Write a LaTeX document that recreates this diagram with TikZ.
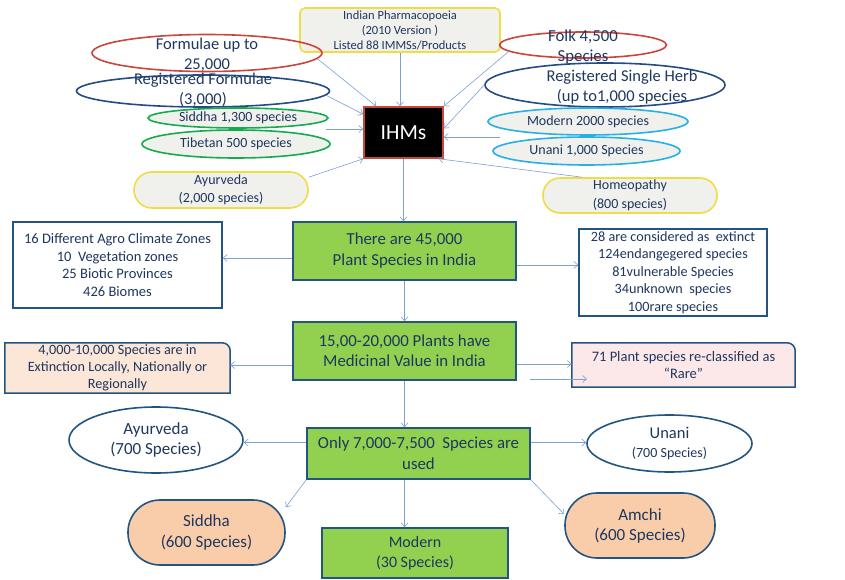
\documentclass[tikz,border=0pt]{standalone}
\usepackage{fontspec}
\setmainfont{Carlito}
\usetikzlibrary{shapes.geometric,arrows.meta,backgrounds}

\begin{document}
\begin{tikzpicture}[x=1pt,y=-1pt,>={Straight Barb[length=4pt,width=7pt]}]

	% Colours
	\definecolor{navy}{RGB}{30,55,95}
	\definecolor{ovalred}{RGB}{200,70,60}
	\definecolor{ovalblue}{RGB}{35,75,135}
	\definecolor{ovalgreen}{RGB}{20,170,80}
	\definecolor{ovalcyan}{RGB}{40,175,230}
	\definecolor{ovalyellow}{RGB}{240,220,70}
	\definecolor{shade}{RGB}{240,240,236}
	\definecolor{boxblue}{RGB}{35,85,130}
	\definecolor{leafgreen}{RGB}{146,208,80}
	\definecolor{peach}{RGB}{250,205,170}
	\definecolor{lightpeach}{RGB}{252,230,215}
	\definecolor{pinkish}{RGB}{252,232,232}
	\definecolor{arrowblue}{RGB}{125,160,210}

	% Styles
	\tikzstyle{link}=[->, arrowblue, line width=0.6pt]
	\tikzstyle{txt}=[align=center, text=navy, inner sep=0pt]
	\tikzstyle{oval}=[ellipse, line width=1.6pt, inner sep=0pt, align=center, text=navy]
	\tikzstyle{pill}=[rectangle, line width=1.6pt, inner sep=0pt, align=center, text=navy]
	\tikzstyle{greenbox}=[rectangle, draw=boxblue, fill=leafgreen, line width=1.6pt, inner sep=0pt,
		align=center, text=navy, font=\fontsize{16.8}{21}\selectfont]
	\tikzstyle{infobox}=[rectangle, draw=boxblue, fill=white, line width=1.5pt, inner sep=0pt,
		align=center, text=navy, font=\fontsize{14.5}{17.5}\selectfont]
	\tikzstyle{cornerbox}=[draw=boxblue, line width=1.5pt]

	\useasboundingbox (0,0) rectangle (845,580);

	%== Sources around the IHMs ==============================================
	\node[pill, draw=ovalyellow, fill=shade, rounded corners=5pt, minimum width=200, minimum height=44,
		font=\fontsize{12.5}{15}\selectfont] (pharm) at (400,30)
		{Indian Pharmacopoeia\\(2010 Version )\\Listed 88 IMMSs/Products};

	\node[oval, draw=ovalred, minimum width=230, minimum height=37] (formulae) at (207,53) {};
	\node[oval, draw=ovalblue, minimum width=253, minimum height=32] (regform) at (203,91) {};
	\node[txt, font=\fontsize{16.5}{19.5}\selectfont] (formulae-t) at (207,55) {Formulae up to\\25,000};
	\node[txt, font=\fontsize{16.5}{20}\selectfont] (regform-t) at (203,90) {Registered Formulae\\(3,000)};

	\node[oval, draw=ovalgreen, fill=shade, minimum width=180, minimum height=20,
		font=\fontsize{14}{14}\selectfont] (siddha) at (238,118) {Siddha 1,300 species};
	\node[oval, draw=ovalgreen, fill=shade, minimum width=188, minimum height=28,
		font=\fontsize{14}{14}\selectfont] (tibetan) at (236,144) {Tibetan 500 species};
	\node[pill, draw=ovalyellow, fill=shade, rounded corners=18pt, minimum width=174, minimum height=36,
		font=\fontsize{14}{18}\selectfont] (ayur) at (221,190) {Ayurveda\\(2,000 species)};

	\node[oval, draw=ovalred, minimum width=167, minimum height=26] (folk) at (583,45) {};
	\node[oval, draw=ovalblue, minimum width=240, minimum height=44] (regherb) at (605,85) {};
	\node[txt, font=\fontsize{16.8}{20}\selectfont] (folk-t) at (583,47) {Folk 4,500\\Species};
	\node[txt, font=\fontsize{16.5}{20}\selectfont] (regherb-t) at (622,87) {Registered Single Herb\\(up to1,000 species};

	\node[oval, draw=ovalcyan, fill=shade, minimum width=200, minimum height=27,
		font=\fontsize{14}{14}\selectfont] (modern2000) at (588,121.5) {Modern 2000 species};
	\node[oval, draw=ovalcyan, fill=shade, minimum width=187, minimum height=28,
		font=\fontsize{14}{14}\selectfont] (unani1000) at (586.5,151) {Unani 1,000 Species};
	\node[pill, draw=ovalyellow, fill=shade, rounded corners=17pt, minimum width=174, minimum height=35,
		font=\fontsize{14}{19}\selectfont] (homeo) at (630,195.5) {Homeopathy\\(800 species)};

	\node[draw=ovalred, fill=black, line width=1.6pt, minimum width=79, minimum height=51,
		text=white, font=\fontsize{21.5}{22}\selectfont] (ihm) at (403.5,132.5) {IHMs};

	% Arrows into the IHMs
	\coordinate (sidtib) at (326,129);
	\coordinate (modun) at (500,137);
	\draw[link] (pharm.south) -- (pharm.south |- ihm.north);
	\draw[link] (formulae.-3) -- ([xshift=13pt]ihm.north west);
	\draw[link] (regform.-2.5) -- ([yshift=-8pt]ihm.north west);
	\draw[link] (sidtib) -- (sidtib -| ihm.west);
	\draw[link] ([yshift=-6pt]ayur.north east) -- (ihm.south west);
	\draw[link] (folk.185) -- (ihm.north east);
	\draw[link] (regherb.west) -- ([yshift=4pt]ihm.east);
	\draw[link] (modun) -- (modun -| ihm.east);
	\draw[link] ([xshift=-48pt]homeo.north) -- ([xshift=-5pt]ihm.south east);

	%== Plant species in India ===============================================
	\node[greenbox, minimum width=223, minimum height=58] (plants) at (404.5,251)
		{There are 45,000\\Plant Species in India};
	\node[greenbox, minimum width=223, minimum height=58, font=\fontsize{16.8}{20}\selectfont] (medic) at (404.5,351)
		{15,00-20,000 Plants have\\Medicinal Value in India};

	\node[infobox, minimum width=209, minimum height=86] (zones) at (117.5,265)
		{16 Different Agro Climate Zones\\10\ \ Vegetation zones\\25 Biotic Provinces\\426 Biomes};
	\node[infobox, minimum width=188, minimum height=87, font=\fontsize{14.2}{17.5}\selectfont] (status) at (673,272.5)
		{28 are considered as\ \ extinct\\124endangegered species\\81vulnerable Species\\34unknown\ \ species\\100rare species};

	\node[txt, minimum width=225, minimum height=50, font=\fontsize{14.2}{17}\selectfont] (loss) at (117.5,368)
		{4,000-10,000 Species are in\\Extinction Locally, Nationally or\\Regionally};
	\node[txt, minimum width=223, minimum height=44, font=\fontsize{14.5}{17}\selectfont] (rare) at (683.5,365)
		{71 Plant species re-classified as\\``Rare''};
	\begin{scope}[on background layer]
		\draw[cornerbox, fill=lightpeach] (loss.south west) -- (loss.north west)
			[rounded corners=8pt] -- (loss.north east) [sharp corners] -- (loss.south east) -- cycle;
		\draw[cornerbox, fill=pinkish] (rare.south west) -- (rare.north west)
			[rounded corners=8pt] -- (rare.north east) [sharp corners] -- (rare.south east) -- cycle;
	\end{scope}

	% Arrows
	\coordinate (stray) at (530,379);
	\coordinate (strayend) at (587,379);
	\draw[link] (ihm.south) -- (ihm.south |- plants.north);
	\draw[link] ([yshift=-7pt]plants.west) -- ([yshift=-7pt]plants.west -| zones.east);
	\draw[link] ([yshift=-14pt]plants.east) -- ([yshift=-14pt]plants.east -| status.west);
	\draw[link] (plants.south) -- (medic.north);
	\draw[link] ([yshift=-14pt]medic.west) -- ([yshift=-14pt]medic.west -| loss.east);
	\draw[link] ([yshift=-13pt]medic.east) -- ([yshift=-13pt]medic.east -| rare.west);
	\draw[link] (stray) -- (strayend);

	%== Species in use =======================================================
	\node[greenbox, minimum width=223, minimum height=51] (only) at (418.5,453.5)
		{Only 7,000-7,500\ \ Species are\\used};
	\node[greenbox, minimum width=186, minimum height=50, font=\fontsize{16}{20}\selectfont] (modern) at (415,553)
		{Modern\\(30 Species)};

	\node[oval, draw=boxblue, fill=white, minimum width=174, minimum height=66,
		font=\fontsize{17}{20}\selectfont] (ayur7) at (156,440) {Ayurveda\\(700 Species)};
	\node[oval, draw=boxblue, fill=white, minimum width=165, minimum height=57,
		font=\fontsize{16.5}{19}\selectfont] (unani) at (669.5,443.5)
		{Unani\\{\fontsize{14}{15}\selectfont (700 Species)}};
	\node[pill, draw=boxblue, fill=peach, rounded corners=32pt, minimum width=157, minimum height=65,
		font=\fontsize{17}{21}\selectfont] (siddha6) at (206.5,532.5) {Siddha\\(600 Species)};
	\node[pill, draw=boxblue, fill=peach, rounded corners=32pt, minimum width=150, minimum height=65,
		font=\fontsize{17}{20}\selectfont] (amchi) at (640,525.5) {Amchi\\(600 Species)};

	% Arrows
	\draw[link] (medic.south) -- (medic.south |- only.north);
	\draw[link] (medic.south |- only.south) -- (medic.south |- modern.north);
	\draw[link] ([yshift=11pt]only.west) -- ([yshift=11pt]only.west -| ayur7.east);
	\draw[link] ([yshift=11pt]only.east) -- ([yshift=11pt]only.east -| unani.west);
	\draw[link] (only.south west) -- ([yshift=-8pt]siddha6.north east);
	\draw[link] (only.south east) -- ([yshift=-22pt]amchi.north west);

\end{tikzpicture}
\end{document}
